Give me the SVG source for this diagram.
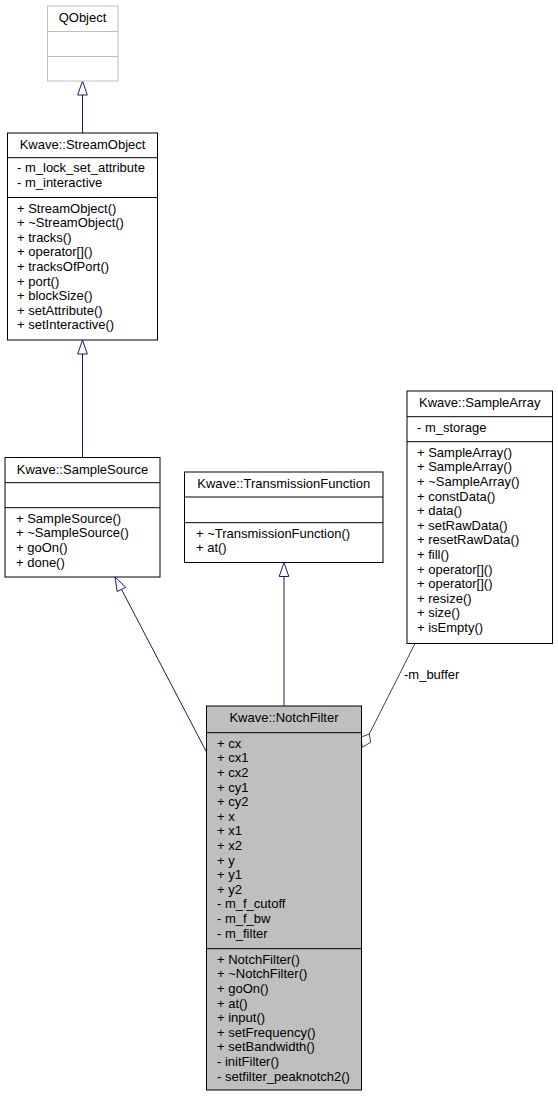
<svg xmlns="http://www.w3.org/2000/svg" width="558" height="1097" viewBox="0 0 558 1097">
<style>
text{font-family:"Liberation Sans",Arial,Helvetica,sans-serif;font-size:13px;fill:#000}
.t{text-anchor:middle}
.box{fill:#fff;stroke:#000;stroke-width:1}
.gbox{fill:#fff;stroke:#bfbfbf;stroke-width:1}
.cur{fill:#bfbfbf;stroke:#000;stroke-width:1}
.inh{stroke:#191970;stroke-width:1;fill:none}
.inhh{stroke:#191970;stroke-width:1;fill:#fff}
.agg{stroke:#404040;stroke-width:1;fill:none}
.aggh{stroke:#404040;stroke-width:1;fill:#fff}
</style>
<rect width="558" height="1097" fill="#fff"/>
<g id="connectors">
<line class="inh" x1="82.5" y1="133" x2="82.5" y2="95"/>
<polygon class="inhh" points="82.5,81 77.7,95 87.3,95"/>
<line class="inh" x1="82.5" y1="457.5" x2="82.5" y2="354"/>
<polygon class="inhh" points="82.5,340 77.7,354 87.3,354"/>
<line class="inh" x1="206.5" y1="752" x2="121.5" y2="589.4"/>
<polygon class="inhh" points="115,577 125.7,587.2 117.2,591.6"/>
<line class="inh" x1="284" y1="706" x2="284" y2="576.5"/>
<polygon class="inhh" points="284,562.5 279.2,576.5 288.8,576.5"/>
<line class="agg" x1="415" y1="643.5" x2="369.3" y2="734"/>
<polygon class="aggh" points="369.3,734 370.7,742.3 362.3,747.3 360.7,737.3"/>
<text x="404" y="679">-m_buffer</text>
</g>
<g id="QObject">
<rect class="gbox" x="47.5" y="6" width="70.5" height="75"/>
<line class="gbox" x1="47.5" y1="31.5" x2="118" y2="31.5"/>
<line class="gbox" x1="47.5" y1="56.5" x2="118" y2="56.5"/>
<text class="t" x="82.5" y="22">QObject</text>
</g>
<g id="StreamObject">
<rect class="box" x="7.5" y="133" width="150" height="207"/>
<line class="box" x1="7.5" y1="157.7" x2="157.5" y2="157.7"/>
<line class="box" x1="7.5" y1="197.5" x2="157.5" y2="197.5"/>
<text class="t" x="82.5" y="149">Kwave::StreamObject</text>
<text x="17" y="172.3">- m_lock_set_attribute</text>
<text x="17" y="186.9">- m_interactive</text>
<text x="17" y="212.5">+ StreamObject()</text>
<text x="17" y="227.1">+ ~StreamObject()</text>
<text x="17" y="241.7">+ tracks()</text>
<text x="17" y="256.3">+ operator[]()</text>
<text x="17" y="270.9">+ tracksOfPort()</text>
<text x="17" y="285.5">+ port()</text>
<text x="17" y="300.1">+ blockSize()</text>
<text x="17" y="314.7">+ setAttribute()</text>
<text x="17" y="329.3">+ setInteractive()</text>
</g>
<g id="SampleSource">
<rect class="box" x="5" y="457.5" width="155" height="119.5"/>
<line class="box" x1="5" y1="482.7" x2="160" y2="482.7"/>
<line class="box" x1="5" y1="507.7" x2="160" y2="507.7"/>
<text class="t" x="82.5" y="473.5">Kwave::SampleSource</text>
<text x="16" y="522.7">+ SampleSource()</text>
<text x="16" y="537.3">+ ~SampleSource()</text>
<text x="16" y="551.9">+ goOn()</text>
<text x="16" y="566.5">+ done()</text>
</g>
<g id="TransmissionFunction">
<rect class="box" x="184.5" y="472" width="198.5" height="90.5"/>
<line class="box" x1="184.5" y1="497" x2="383" y2="497"/>
<line class="box" x1="184.5" y1="522.7" x2="383" y2="522.7"/>
<text class="t" x="283.7" y="488">Kwave::TransmissionFunction</text>
<text x="196" y="537.7">+ ~TransmissionFunction()</text>
<text x="196" y="552.3">+ at()</text>
</g>
<g id="SampleArray">
<rect class="box" x="407" y="391" width="145.5" height="252.5"/>
<line class="box" x1="407" y1="416.7" x2="552.5" y2="416.7"/>
<line class="box" x1="407" y1="441.7" x2="552.5" y2="441.7"/>
<text class="t" x="479.7" y="407">Kwave::SampleArray</text>
<text x="417" y="432">- m_storage</text>
<text x="417" y="456.7">+ SampleArray()</text>
<text x="417" y="471.3">+ SampleArray()</text>
<text x="417" y="485.9">+ ~SampleArray()</text>
<text x="417" y="500.5">+ constData()</text>
<text x="417" y="515.1">+ data()</text>
<text x="417" y="529.7">+ setRawData()</text>
<text x="417" y="544.3">+ resetRawData()</text>
<text x="417" y="558.9">+ fill()</text>
<text x="417" y="573.5">+ operator[]()</text>
<text x="417" y="588.1">+ operator[]()</text>
<text x="417" y="602.7">+ resize()</text>
<text x="417" y="617.3">+ size()</text>
<text x="417" y="631.9">+ isEmpty()</text>
</g>
<g id="NotchFilter">
<rect class="cur" x="206.5" y="706" width="155" height="384"/>
<line class="box" x1="206.5" y1="732.7" x2="361.5" y2="732.7"/>
<line class="box" x1="206.5" y1="948.7" x2="361.5" y2="948.7"/>
<text class="t" x="284" y="722">Kwave::NotchFilter</text>
<text x="217" y="747.7">+ cx</text>
<text x="217" y="762.3">+ cx1</text>
<text x="217" y="776.9">+ cx2</text>
<text x="217" y="791.5">+ cy1</text>
<text x="217" y="806.1">+ cy2</text>
<text x="217" y="820.7">+ x</text>
<text x="217" y="835.3">+ x1</text>
<text x="217" y="849.9">+ x2</text>
<text x="217" y="864.5">+ y</text>
<text x="217" y="879.1">+ y1</text>
<text x="217" y="893.7">+ y2</text>
<text x="217" y="908.3">- m_f_cutoff</text>
<text x="217" y="922.9">- m_f_bw</text>
<text x="217" y="937.5">- m_filter</text>
<text x="217" y="963.7">+ NotchFilter()</text>
<text x="217" y="978.3">+ ~NotchFilter()</text>
<text x="217" y="992.9">+ goOn()</text>
<text x="217" y="1007.5">+ at()</text>
<text x="217" y="1022.1">+ input()</text>
<text x="217" y="1036.7">+ setFrequency()</text>
<text x="217" y="1051.3">+ setBandwidth()</text>
<text x="217" y="1065.9">- initFilter()</text>
<text x="217" y="1080.5">- setfilter_peaknotch2()</text>
</g>
</svg>
